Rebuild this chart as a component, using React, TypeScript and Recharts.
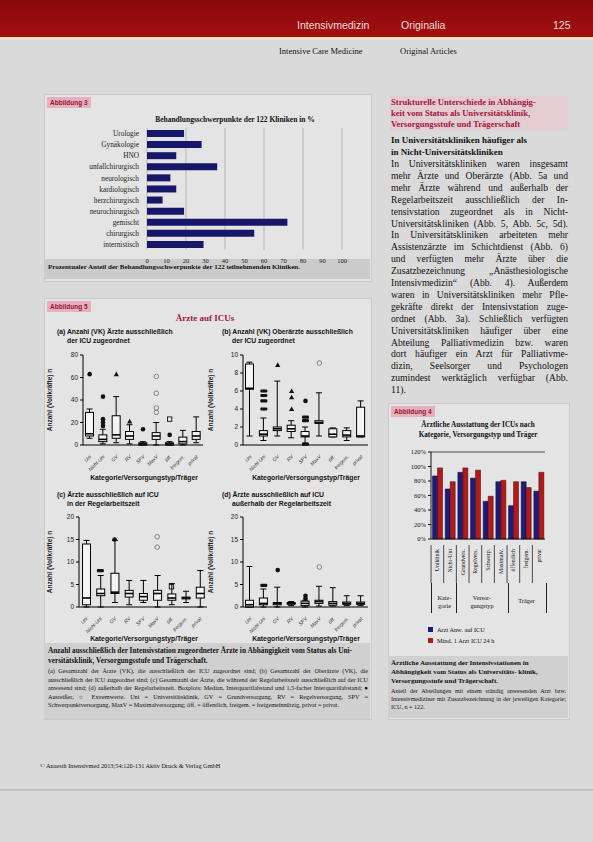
import {
  Bar,
  BarChart,
  CartesianGrid,
  ComposedChart,
  ReferenceLine,
  Scatter,
  XAxis,
  YAxis,
} from "recharts";

// Abbildung 3 – Behandlungsschwerpunkte (%)
const focusNames = [
  "Urologie",
  "Gynäkologie",
  "HNO",
  "unfallchirurgisch",
  "neurologisch",
  "kardiologisch",
  "herzchirurgisch",
  "neurochirurgisch",
  "gemischt",
  "chirurgisch",
  "internistisch",
];
const focusShare = [19, 28, 15, 36, 12, 15, 8, 19, 72, 55, 29];
const focusTicks = [0, 10, 20, 30, 40, 50, 60, 70, 80, 90, 100];

// Abbildung 4 – ärztliche Ausstattung (%)
const staffCats = [
  "Uniklinik",
  "Nicht-Uni",
  "Grundvers.",
  "Regelvers.",
  "Schwerp.",
  "Maximalv.",
  "öffentlich",
  "freigem.",
  "privat",
];
const staffOnIcu = [87, 69, 92, 84, 52, 79, 46, 79, 66];
const staff24h = [98, 79, 98, 95, 59, 81, 79, 71, 92];
const staffTicks = [0, 20, 40, 60, 80, 100, 120];

// Abbildung 5 – Boxplots
const boxCats = ["Uni", "Nicht-Uni", "GV", "RV", "SPV", "MaxV", "öff.", "freigem.", "privat"];

const boxA = [
  { lo: 6, q1: 8, med: 10, q3: 29, hi: 32 },
  { lo: 1, q1: 3, med: 5, q3: 9, hi: 14 },
  { lo: 2, q1: 6, med: 9, q3: 26, hi: 43 },
  { lo: 1, q1: 5, med: 8, q3: 12, hi: 18 },
  { lo: 0, q1: 0, med: 1, q3: 2, hi: 3 },
  { lo: 0, q1: 5, med: 8, q3: 11, hi: 20 },
  { lo: 0, q1: 0, med: 1, q3: 2, hi: 3 },
  { lo: 0, q1: 1, med: 3, q3: 7, hi: 13 },
  { lo: 2, q1: 5, med: 8, q3: 12, hi: 25 },
];
const outA = [
  { cat: "Uni", v: 63, m: "dot" },
  { cat: "Nicht-Uni", v: 17, m: "dot" },
  { cat: "Nicht-Uni", v: 20, m: "dot" },
  { cat: "Nicht-Uni", v: 23, m: "dot" },
  { cat: "Nicht-Uni", v: 43, m: "dot" },
  { cat: "GV", v: 63, m: "tri" },
  { cat: "RV", v: 21, m: "tri" },
  { cat: "SPV", v: 14, m: "dot" },
  { cat: "MaxV", v: 29, m: "circ" },
  { cat: "MaxV", v: 33, m: "circ" },
  { cat: "MaxV", v: 46, m: "circ" },
  { cat: "MaxV", v: 61, m: "circ" },
  { cat: "öff.", v: 9, m: "dot" },
  { cat: "öff.", v: 23, m: "sq" },
];

const boxB = [
  { lo: 1, q1: 6.2, med: 6.3, q3: 9, hi: 9.2 },
  { lo: 0.5, q1: 1, med: 1.2, q3: 1.6, hi: 3 },
  { lo: 1, q1: 1.6, med: 1.8, q3: 2, hi: 7.1 },
  { lo: 0.8, q1: 1.5, med: 1.8, q3: 2.2, hi: 2.7 },
  { lo: 0.2, q1: 0.9, med: 1, q3: 1.5, hi: 2 },
  { lo: 1, q1: 2.4, med: 2.5, q3: 2.7, hi: 5.8 },
  { lo: 0.9, q1: 0.9, med: 1.2, q3: 1.8, hi: 1.9 },
  { lo: 0.5, q1: 0.9, med: 1.1, q3: 1.6, hi: 1.9 },
  { lo: 0.9, q1: 0.9, med: 1, q3: 4.2, hi: 4.9 },
];
const outB = [
  { cat: "Nicht-Uni", v: 4, m: "rect" },
  { cat: "Nicht-Uni", v: 4.9, m: "rect" },
  { cat: "Nicht-Uni", v: 5.5, m: "rect" },
  { cat: "Nicht-Uni", v: 6, m: "rect" },
  { cat: "GV", v: 8.9, m: "tri" },
  { cat: "RV", v: 4, m: "tri" },
  { cat: "RV", v: 5.3, m: "tri" },
  { cat: "RV", v: 6, m: "tri" },
  { cat: "SPV", v: 2.7, m: "rect" },
  { cat: "SPV", v: 3.1, m: "rect" },
  { cat: "SPV", v: 4.9, m: "dot" },
  { cat: "SPV", v: 0.1, m: "rect" },
  { cat: "MaxV", v: 9.1, m: "circ" },
];

const boxC = [
  { lo: 0, q1: 0.5, med: 2, q3: 14, hi: 14.8 },
  { lo: 0, q1: 2.5, med: 3, q3: 4, hi: 7 },
  { lo: 1, q1: 3, med: 3.3, q3: 7.5, hi: 14.8 },
  { lo: 0.5, q1: 2.2, med: 3, q3: 3.7, hi: 5.9 },
  { lo: 1, q1: 1.5, med: 2.3, q3: 3, hi: 5.9 },
  { lo: 0, q1: 1.5, med: 3, q3: 3.7, hi: 7 },
  { lo: 0.5, q1: 1.5, med: 2, q3: 2.9, hi: 5.2 },
  { lo: 1, q1: 1.8, med: 2, q3: 2.2, hi: 3.5 },
  { lo: 0, q1: 2, med: 3, q3: 4.4, hi: 8.1 },
];
const outC = [
  { cat: "Nicht-Uni", v: 8.1, m: "rect" },
  { cat: "GV", v: 15, m: "dot" },
  { cat: "MaxV", v: 13.3, m: "circ" },
  { cat: "MaxV", v: 15.6, m: "circ" },
  { cat: "öff.", v: 4.5, m: "sq" },
];

const boxD = [
  { lo: 0, q1: 0, med: 0.5, q3: 1.5, hi: 9 },
  { lo: 0, q1: 0.5, med: 0.8, q3: 2, hi: 4 },
  { lo: 0, q1: 0.5, med: 0.8, q3: 1, hi: 4.4 },
  { lo: 0.3, q1: 0.6, med: 0.8, q3: 1, hi: 1.2 },
  { lo: 0, q1: 0.3, med: 0.8, q3: 1.3, hi: 1.5 },
  { lo: 0.2, q1: 0.8, med: 1.2, q3: 1.5, hi: 4.6 },
  { lo: 0.2, q1: 0.4, med: 0.8, q3: 1.2, hi: 4.3 },
  { lo: 0.3, q1: 0.6, med: 0.8, q3: 1.1, hi: 2.5 },
  { lo: 0.3, q1: 0.6, med: 0.8, q3: 1.1, hi: 2.5 },
];
const outD = [
  { cat: "Nicht-Uni", v: 4.8, m: "rect" },
  { cat: "GV", v: 8.2, m: "dot" },
  { cat: "SPV", v: 1.9, m: "dot" },
  { cat: "SPV", v: 2.5, m: "dot" },
  { cat: "MaxV", v: 8.9, m: "circ" },
];

const serif = "'Liberation Serif', 'DejaVu Serif', serif";
const sans = "'Liberation Sans', Arial, sans-serif";

const bodyLines = [
  "In Universitätskliniken waren insgesamt",
  "mehr Ärzte und Oberärzte (Abb. 5a und",
  "mehr Ärzte während und außerhalb der",
  "Regelarbeitszeit ausschließlich der In-",
  "tensivstation zugeordnet als in Nicht-",
  "Universitätskliniken (Abb. 5, Abb. 5c, 5d).",
  "In Universitätskliniken arbeiteten mehr",
  "Assistenzärzte im Schichtdienst (Abb. 6)",
  "und verfügten mehr Ärzte über die",
  "Zusatzbezeichnung „Anästhesiologische",
  "Intensivmedizin“ (Abb. 4). Außerdem",
  "waren in Universitätskliniken mehr Pfle-",
  "gekräfte direkt der Intensivstation zuge-",
  "ordnet (Abb. 3a). Schließlich verfügten",
  "Universitätskliniken häufiger über eine",
  "Abteilung Palliativmedizin bzw. waren",
  "dort häufiger ein Arzt für Palliativme-",
  "dizin, Seelsorger und Psychologen",
  "zumindest werktäglich verfügbar (Abb.",
  "11).",
];

function BoxShape(props: any) {
  const { x, y, width, height } = props;
  const p = props.payload || props;
  if (!p || !(p.hi > 0) || !Number.isFinite(height)) return <g />;
  const ppu = height / p.hi;
  const base = y + height;
  const py = (v: number) => base - v * ppu;
  const cx = x + width / 2;
  const bw = 8;
  return (
    <g stroke="#000" strokeWidth={1}>
      <line x1={cx} x2={cx} y1={py(p.lo)} y2={py(p.hi)} />
      <line x1={cx - 3} x2={cx + 3} y1={py(p.hi)} y2={py(p.hi)} />
      <line x1={cx - 3} x2={cx + 3} y1={py(p.lo)} y2={py(p.lo)} />
      <rect
        x={cx - bw / 2}
        y={py(p.q3)}
        width={bw}
        height={Math.max(py(p.q1) - py(p.q3), 1)}
        fill="#f4f4f4"
      />
      <line x1={cx - bw / 2} x2={cx + bw / 2} y1={py(p.med)} y2={py(p.med)} strokeWidth={1.6} />
    </g>
  );
}

function outlierShape(idx: number) {
  return (props: any) => {
    const { cx, cy, payload } = props;
    const m = payload ? payload["m" + idx] : undefined;
    if (!m || !Number.isFinite(cx) || !Number.isFinite(cy)) return <g />;
    if (m === "dot") return <circle cx={cx} cy={cy} r={2.3} fill="#111" />;
    if (m === "circ")
      return <circle cx={cx} cy={cy} r={2.3} fill="none" stroke="#777" strokeWidth={0.9} />;
    if (m === "sq")
      return <rect x={cx - 2.2} y={cy - 2.2} width={4.4} height={4.4} fill="none" stroke="#111" strokeWidth={0.9} />;
    if (m === "rect")
      return <rect x={cx - 3.5} y={cy - 1.6} width={7} height={3.2} rx={1} fill="#111" />;
    return (
      <path d={`M${cx},${cy - 2.6} L${cx + 2.6},${cy + 2} L${cx - 2.6},${cy + 2} Z`} fill="#111" />
    );
  };
}

function SlantTick(props: any) {
  const { x, y, payload } = props;
  return (
    <text
      x={x + 2}
      y={y + 4}
      transform={`rotate(-45 ${x + 2} ${y + 4})`}
      textAnchor="end"
      fontSize={5}
      fontStyle="italic"
      fontFamily={sans}
      fill="#333"
    >
      {payload.value}
    </text>
  );
}

type PanelProps = {
  box: { lo: number; q1: number; med: number; q3: number; hi: number }[];
  out: { cat: string; v: number; m: string }[];
  domain: [number, number];
  ticks: number[];
  left: number;
  top: number;
  width: number;
  axisW: number;
  right: number;
};

function BoxPanel({ box, out, domain, ticks, left, top, width, axisW, right }: PanelProps) {
  const rows = box.map((b, i) => {
    const row: Record<string, any> = { cat: boxCats[i], ...b };
    out
      .filter((o) => o.cat === boxCats[i])
      .forEach((o, k) => {
        row["o" + k] = o.v;
        row["m" + k] = o.m;
      });
    return row;
  });
  return (
    <div style={{ position: "absolute", left, top }}>
      <ComposedChart
        width={width}
        height={128}
        data={rows}
        margin={{ top: 10, right, bottom: 0, left: 0 }}
      >
        <XAxis
          dataKey="cat"
          interval={0}
          tick={<SlantTick />}
          tickLine={false}
          height={28}
          stroke="#000"
        />
        <YAxis
          domain={domain}
          ticks={ticks}
          width={axisW}
          stroke="#000"
          tickSize={3}
          tick={{ fontSize: 6.5, fill: "#222", fontFamily: sans }}
          label={{
            value: "Anzahl (Vollkräfte) n",
            angle: -90,
            position: "insideLeft",
            offset: 6,
            style: { fontSize: 6.5, fontWeight: "bold", fontFamily: sans, fill: "#222", textAnchor: "middle" },
          }}
        />
        <Bar dataKey="hi" barSize={9} shape={BoxShape} isAnimationActive={false} />
        {[0, 1, 2, 3].map((k) => (
          <Scatter key={k} dataKey={"o" + k} shape={outlierShape(k)} isAnimationActive={false} />
        ))}
      </ComposedChart>
    </div>
  );
}

function Abs({ l, t, w, children, style }: any) {
  return (
    <div style={{ position: "absolute", left: l, top: t, width: w, ...style }}>{children}</div>
  );
}

function FigLabel({ l, t, text }: any) {
  return (
    <Abs
      l={l}
      t={t}
      style={{
        background: "#e6b1bd",
        color: "#9c1234",
        fontFamily: sans,
        fontSize: 6.5,
        fontWeight: "bold",
        padding: "1px 3px",
        lineHeight: "9px",
      }}
    >
      {text}
    </Abs>
  );
}

function VertTick(props: any) {
  const { x, y, payload } = props;
  return (
    <g>
      <line x1={x - 6.3} x2={x - 6.3} y1={y - 2} y2={y + 42} stroke="#222" strokeWidth={0.8} />
      <text
        x={x + 2}
        y={y + 2}
        transform={`rotate(-90 ${x + 2} ${y + 2})`}
        textAnchor="end"
        fontSize={5.8}
        fontFamily={serif}
        fill="#111"
      >
        {payload.value}
      </text>
    </g>
  );
}

export default function App() {
  const focusData = focusNames.map((name, i) => ({ name, share: focusShare[i] }));
  const staffData = staffCats.map((cat, i) => ({ cat, a: staffOnIcu[i], b: staff24h[i] }));

  return (
    <div
      style={{
        position: "absolute",
        left: 0,
        top: 0,
        width: 593,
        height: 842,
        overflow: "hidden",
        background: "#dadada",
        fontFamily: serif,
        color: "#111",
      }}
    >
      {/* header */}
      <Abs l={0} t={0} w={593} style={{ height: 37, background: "linear-gradient(#8a090b, #a10f10)" }} />
      <Abs l={0} t={37} w={593} style={{ height: 3, background: "#eee3c6" }} />
      <Abs l={297} t={19} style={{ color: "#f6dcdc", fontFamily: sans, fontSize: 10.5 }}>
        Intensivmedizin
      </Abs>
      <Abs l={401} t={19} style={{ color: "#f6dcdc", fontFamily: sans, fontSize: 10.5 }}>
        Originalia
      </Abs>
      <Abs l={553} t={19} style={{ color: "#f6dcdc", fontFamily: sans, fontSize: 10.5 }}>
        125
      </Abs>
      <Abs l={279} t={46} style={{ fontSize: 8.5 }}>
        Intensive Care Medicine
      </Abs>
      <Abs l={400} t={46} style={{ fontSize: 8.5 }}>
        Original Articles
      </Abs>

      {/* Abbildung 3 */}
      <Abs l={44} t={94} w={326} style={{ height: 186, background: "#e4e4e4", border: "1px solid #cacaca" }} />
      <Abs l={44} t={259} w={326} style={{ height: 20, background: "#cbcbcb" }} />
      <FigLabel l={47} t={97} text="Abbildung 3" />
      <Abs l={140} t={115} w={190} style={{ textAlign: "center", fontSize: 7.5, fontWeight: "bold" }}>
        Behandlungsschwerpunkte der 122 Kliniken in %
      </Abs>
      <div style={{ position: "absolute", left: 44, top: 124 }}>
        <BarChart
          width={310}
          height={142}
          data={focusData}
          layout="vertical"
          margin={{ top: 4, right: 12, bottom: 0, left: 0 }}
        >
          <CartesianGrid horizontal={false} stroke="#a9a9a9" strokeWidth={0.8} />
          <XAxis
            type="number"
            domain={[0, 100]}
            ticks={focusTicks}
            height={16}
            tickLine={false}
            axisLine={false}
            tick={{ fontSize: 6.5, fill: "#222", fontFamily: serif }}
          />
          <YAxis
            type="category"
            dataKey="name"
            width={103}
            interval={0}
            tickLine={false}
            axisLine={false}
            tick={{ fontSize: 7.3, fill: "#222", fontFamily: serif }}
          />
          <Bar dataKey="share" fill="#17176a" barSize={7} isAnimationActive={false} />
        </BarChart>
      </div>
      <Abs l={48} t={263} w={320} style={{ fontSize: 7, fontWeight: "bold" }}>
        Prozentualer Anteil der Behandlungsschwerpunkte der 122 teilnehmenden Kliniken.
      </Abs>

      {/* Abbildung 5 */}
      <Abs l={44} t={298} w={326} style={{ height: 420, background: "#e4e4e4", border: "1px solid #cacaca" }} />
      <Abs l={44} t={643} w={326} style={{ height: 76, background: "#d0d0d0" }} />
      <FigLabel l={47} t={301} text="Abbildung 5" />
      <Abs l={150} t={313} w={110} style={{ textAlign: "center", fontSize: 9, fontWeight: "bold", color: "#a3143a" }}>
        Ärzte auf ICUs
      </Abs>

      <Abs l={57} t={327} w={160} style={{ fontSize: 6.8, fontWeight: "bold", fontFamily: sans, lineHeight: "9px" }}>
        (a) Anzahl (VK) Ärzte ausschließlich
        <br />
        <span style={{ paddingLeft: 10 }}>der ICU zugeordnet</span>
      </Abs>
      <Abs l={222} t={327} w={160} style={{ fontSize: 6.8, fontWeight: "bold", fontFamily: sans, lineHeight: "9px" }}>
        (b) Anzahl (VK) Oberärzte ausschließlich
        <br />
        <span style={{ paddingLeft: 10 }}>der ICU zugeordnet</span>
      </Abs>
      <BoxPanel box={boxA} out={outA} domain={[0, 80]} ticks={[0, 20, 40, 60, 80]} left={44} top={345} width={170} axisW={39} right={11} />
      <BoxPanel box={boxB} out={outB} domain={[0, 10]} ticks={[0, 2, 4, 6, 8, 10]} left={205} top={345} width={170} axisW={38} right={7} />
      <Abs l={84} t={474} w={120} style={{ textAlign: "center", fontSize: 6.8, fontWeight: "bold", fontFamily: sans }}>
        Kategorie/Versorgungstyp/Träger
      </Abs>
      <Abs l={244} t={474} w={124} style={{ textAlign: "center", fontSize: 6.8, fontWeight: "bold", fontFamily: sans }}>
        Kategorie/Versorgungstyp/Träger
      </Abs>

      <Abs l={57} t={490} w={160} style={{ fontSize: 6.8, fontWeight: "bold", fontFamily: sans, lineHeight: "9px" }}>
        (c) Ärzte ausschließlich auf ICU
        <br />
        <span style={{ paddingLeft: 10 }}>in der Regelarbeitszeit</span>
      </Abs>
      <Abs l={222} t={490} w={160} style={{ fontSize: 6.8, fontWeight: "bold", fontFamily: sans, lineHeight: "9px" }}>
        (d) Ärzte ausschließlich auf ICU
        <br />
        <span style={{ paddingLeft: 10 }}>außerhalb der Regelarbeitszeit</span>
      </Abs>
      <BoxPanel box={boxC} out={outC} domain={[0, 20]} ticks={[0, 5, 10, 15, 20]} left={44} top={507} width={170} axisW={35} right={7} />
      <BoxPanel box={boxD} out={outD} domain={[0, 20]} ticks={[0, 5, 10, 15, 20]} left={205} top={507} width={170} axisW={38} right={7} />
      <Abs l={80} t={635} w={128} style={{ textAlign: "center", fontSize: 6.8, fontWeight: "bold", fontFamily: sans }}>
        Kategorie/Versorgungstyp/Träger
      </Abs>
      <Abs l={244} t={635} w={124} style={{ textAlign: "center", fontSize: 6.8, fontWeight: "bold", fontFamily: sans }}>
        Kategorie/Versorgungstyp/Träger
      </Abs>

      <Abs l={48} t={646} w={320} style={{ fontSize: 7.3, fontWeight: "bold", lineHeight: "9.5px" }}>
        Anzahl ausschließlich der Intensivstation zugeordneter Ärzte in Abhängigkeit vom Status als Uni-
        versitätsklinik, Versorgungsstufe und Trägerschaft.
      </Abs>
      <Abs l={48} t={667} w={320} style={{ fontSize: 6.2, lineHeight: "8.6px", textAlign: "justify" }}>
        (a) Gesamtzahl der Ärzte (VK), die ausschließlich der ICU zugeordnet sind; (b) Gesamtzahl der
        Oberärzte (VK), die ausschließlich der ICU zugeordnet sind; (c) Gesamtzahl der Ärzte, die während
        der Regelarbeitszeit ausschließlich auf der ICU anwesend sind; (d) außerhalb der Regelarbeitszeit.
        Boxplots: Median, Interquartilabstand und 1,5-facher Interquartilabstand; ● Ausreißer, ○ Extremwerte.
        Uni = Universitätsklinik, GV = Grundversorgung, RV = Regelversorgung, SPV = Schwerpunktversorgung,
        MaxV = Maximalversorgung; öff. = öffentlich, freigem. = freigemeinnützig, privat = privat.
      </Abs>

      {/* right column text */}
      <Abs l={390} t={96} w={178} style={{ height: 34, background: "#e3cdd2" }} />
      <Abs l={391} t={97} w={178} style={{ fontSize: 8.6, fontWeight: "bold", color: "#a3143a", lineHeight: "11px" }}>
        Strukturelle Unterschiede in Abhängig-
        <br />
        keit vom Status als Universitätsklinik,
        <br />
        Versorgungsstufe und Trägerschaft
      </Abs>
      <Abs l={391} t={135} w={178} style={{ fontSize: 9, fontWeight: "bold", lineHeight: "11.5px" }}>
        In Universitätskliniken häufiger als
        <br />
        in Nicht-Universitätskliniken
      </Abs>
      {bodyLines.map((line, i) => (
        <Abs
          key={i}
          l={391}
          t={158 + i * 11.9}
          w={177}
          style={{
            fontSize: 9.6,
            lineHeight: "11.5px",
            textAlign: "justify",
            textAlignLast: i === bodyLines.length - 1 ? "left" : "justify",
            whiteSpace: "nowrap",
          }}
        >
          {line}
        </Abs>
      ))}

      {/* Abbildung 4 */}
      <Abs l={388} t={403} w={180} style={{ height: 315, background: "#e4e4e4", border: "1px solid #cacaca" }} />
      <Abs l={388} t={656} w={180} style={{ height: 62, background: "#d0d0d0" }} />
      <FigLabel l={391} t={406} text="Abbildung 4" />
      <Abs l={392} t={421} w={172} style={{ textAlign: "center", fontSize: 7.2, fontWeight: "bold", lineHeight: "9.5px" }}>
        Ärztliche Ausstattung der ICUs nach
        <br />
        Kategorie, Versorgungstyp und Träger
      </Abs>
      <div style={{ position: "absolute", left: 388, top: 440 }}>
        <BarChart
          width={170}
          height={143}
          data={staffData}
          margin={{ top: 12, right: 13, bottom: 0, left: 0 }}
          barGap={0}
          barCategoryGap="12%"
        >
          <ReferenceLine y={120} stroke="#222" strokeWidth={0.8} />
          <XAxis dataKey="cat" interval={0} height={44} tickLine={false} tick={<VertTick />} stroke="#111" />
          <YAxis
            domain={[0, 120]}
            ticks={staffTicks}
            width={43}
            tickFormatter={(v) => `${v}%`}
            tickSize={3}
            stroke="#111"
            tick={{ fontSize: 6.5, fill: "#111", fontFamily: serif }}
          />
          <Bar dataKey="a" fill="#1c1c7c" stroke="#0a0a30" strokeWidth={0.5} isAnimationActive={false} />
          <Bar dataKey="b" fill="#b3191b" stroke="#3a0606" strokeWidth={0.5} isAnimationActive={false} />
        </BarChart>
      </div>
      <Abs l={431} t={583} w={114} style={{ height: 30, borderLeft: "1px solid #222", borderRight: "1px solid #222" }} />
      <Abs l={456} t={583} w={51} style={{ height: 30, borderLeft: "1px solid #222", borderRight: "1px solid #222" }} />
      <Abs l={433} t={594} w={23} style={{ textAlign: "center", fontSize: 6.3, lineHeight: "8px" }}>
        Kate-
        <br />
        gorie
      </Abs>
      <Abs l={457} t={594} w={50} style={{ textAlign: "center", fontSize: 6.3, lineHeight: "8px" }}>
        Versor-
        <br />
        gungstyp
      </Abs>
      <Abs l={508} t={597} w={37} style={{ textAlign: "center", fontSize: 6.3, lineHeight: "8px" }}>
        Träger
      </Abs>
      <Abs l={428} t={624} w={130} style={{ fontSize: 6.3, lineHeight: "11px" }}>
        <div>
          <span style={{ display: "inline-block", width: 5, height: 5, background: "#1c1c7c", marginRight: 4 }} />
          Arzt Anw. auf ICU
        </div>
        <div>
          <span style={{ display: "inline-block", width: 5, height: 5, background: "#b3191b", marginRight: 4 }} />
          Mind. 1 Arzt ICU 24 h
        </div>
      </Abs>
      <Abs l={391} t={659} w={175} style={{ fontSize: 7, fontWeight: "bold", lineHeight: "9.2px" }}>
        Ärztliche Ausstattung der Intensivstationen in Abhängigkeit vom Status als Universitäts-
        klinik, Versorgungsstufe und Trägerschaft.
      </Abs>
      <Abs l={391} t={688} w={175} style={{ fontSize: 6.1, lineHeight: "7.8px", textAlign: "justify" }}>
        Anteil der Abteilungen mit einem ständig anwesenden Arzt bzw. Intensivmediziner mit
        Zusatzbezeichnung in der jeweiligen Kategorie; ICU, n = 122.
      </Abs>

      {/* footer */}
      <Abs l={40} t={762} style={{ fontSize: 6.3 }}>
        © Anaesth Intensivmed 2013;54:120-131  Aktiv Druck &amp; Verlag GmbH
      </Abs>
      <Abs l={0} t={789} w={593} style={{ height: 2, background: "#c2c2c2" }} />
    </div>
  );
}
